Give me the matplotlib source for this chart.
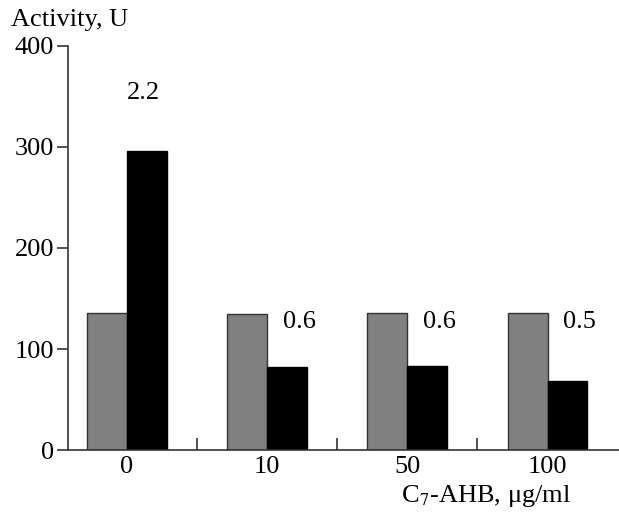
import matplotlib.pyplot as plt
import numpy as np

plt.rcParams['font.family'] = ['Liberation Serif', 'DejaVu Serif']

concs = ["0", "10", "50", "100"]
gray_vals = [136, 135, 136, 136]
black_vals = [296, 82, 83, 68]
ratios = ["2.2", "0.6", "0.6", "0.5"]
ratio_y = [353, 127, 127, 127]

fs = 19

fig = plt.figure(figsize=(6.19, 5.15), dpi=100)
ax = fig.add_axes([0.110, 0.126, 0.89, 0.785])

x = np.arange(len(concs))
w = 0.285
ax.bar(x - w/2, gray_vals, w, color="#808080", edgecolor="#333333", lw=1.0)
ax.bar(x + w/2, black_vals, w, color="black", edgecolor="black", lw=1.0)

for i, r in enumerate(ratios):
    if i == 0:
        ax.text(x[i] + 0.12, ratio_y[i], r, fontsize=fs, ha="center", va="center")
    else:
        ax.text(x[i] + 0.11, ratio_y[i], r, fontsize=fs, ha="left", va="center")

ax.set_xlim(-0.42, 3.51)
ax.set_ylim(0, 400)
ax.set_yticks([0, 100, 200, 300, 400])
ax.set_xticks(x)
ax.set_xticklabels(concs)
ax.set_xticks([0.5, 1.5, 2.5], minor=True)
ax.tick_params(axis="x", which="major", length=0, labelsize=fs, pad=4)
ax.tick_params(axis="x", which="minor", direction="in", length=9, width=1.2, color="#333333")
ax.tick_params(axis="y", labelsize=fs, length=8, width=1.2, color="#333333", pad=2)

for s in ["top", "right"]:
    ax.spines[s].set_visible(False)
for s in ["left", "bottom"]:
    ax.spines[s].set_color("#333333")
    ax.spines[s].set_linewidth(1.2)

fig.text(0.018, 0.962, "Activity, U", fontsize=fs, va="center", ha="left")
fig.text(0.785, 0.036, "C$_7$-AHB, μg/ml", fontsize=fs, va="center", ha="center",
         math_fontfamily="stix")

fig.savefig("out.png", dpi=100)
